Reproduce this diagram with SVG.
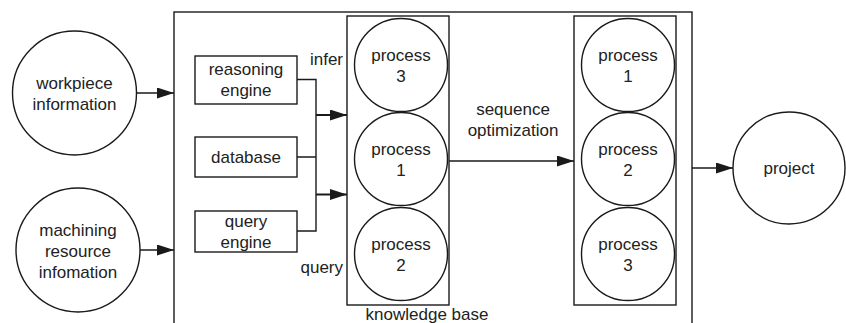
<svg xmlns="http://www.w3.org/2000/svg" width="846" height="323" viewBox="0 0 846 323">
  <style>
    .shape { fill: #fff; stroke: #1a1a1a; stroke-width: 1.4; }
    .frame { fill: none; stroke: #1a1a1a; stroke-width: 1.4; }
    .wire { fill: none; stroke: #1a1a1a; stroke-width: 1.4; }
    .wire-bold { fill: none; stroke: #1a1a1a; stroke-width: 2; }
    text { font-family: "Liberation Sans", Arial, sans-serif; font-size: 17px; fill: #222; text-anchor: middle; }
    .end { text-anchor: end; }
  </style>
  <defs>
    <marker id="arrow" markerUnits="userSpaceOnUse" markerWidth="18" markerHeight="12" refX="17" refY="5.5" orient="auto">
      <path d="M0,0 L17,5.5 L0,11 Z" fill="#1a1a1a"/>
    </marker>
  </defs>

  <rect fill="#fff" width="846" height="323"/>

  <!-- outer system frame, open at the bottom -->
  <rect id="system-frame" class="frame" x="174" y="12" width="518" height="340"/>

  <!-- inputs -->
  <g id="workpiece">
    <circle class="shape" cx="74.5" cy="93" r="62"/>
    <text x="74.5" y="88.5">workpiece</text>
    <text x="74.5" y="110">information</text>
  </g>
  <g id="machining">
    <circle class="shape" cx="78" cy="250" r="62"/>
    <text x="78" y="235.5">machining</text>
    <text x="78" y="256.5">resource</text>
    <text x="78" y="277.5">infomation</text>
  </g>

  <!-- engines -->
  <g id="reasoning-engine">
    <rect class="shape" x="195" y="56" width="102" height="48"/>
    <text x="246" y="74.5">reasoning</text>
    <text x="246" y="95.5">engine</text>
  </g>
  <g id="database">
    <rect class="shape" x="195" y="137" width="102" height="40"/>
    <text x="246" y="163">database</text>
  </g>
  <g id="query-engine">
    <rect class="shape" x="195" y="211" width="102" height="41"/>
    <text x="246" y="226.5">query</text>
    <text x="246" y="247.5">engine</text>
  </g>

  <!-- knowledge base -->
  <g id="knowledge-base">
    <rect class="shape" x="347" y="16" width="102" height="289"/>
    <circle class="shape" cx="401" cy="65" r="46.5"/>
    <text x="401" y="61">process</text>
    <text x="401" y="82">3</text>
    <circle class="shape" cx="401" cy="159" r="46.5"/>
    <text x="401" y="155">process</text>
    <text x="401" y="176">1</text>
    <circle class="shape" cx="401" cy="254" r="46.5"/>
    <text x="401" y="250">process</text>
    <text x="401" y="271">2</text>
    <text x="427" y="320">knowledge base</text>
  </g>

  <!-- optimized sequence -->
  <g id="optimized-sequence">
    <rect class="shape" x="574" y="16" width="102" height="289"/>
    <circle class="shape" cx="628" cy="65" r="46.5"/>
    <text x="628" y="61">process</text>
    <text x="628" y="82">1</text>
    <circle class="shape" cx="628" cy="159" r="46.5"/>
    <text x="628" y="155">process</text>
    <text x="628" y="176">2</text>
    <circle class="shape" cx="628" cy="254" r="46.5"/>
    <text x="628" y="250">process</text>
    <text x="628" y="271">3</text>
  </g>

  <!-- output -->
  <g id="project">
    <circle class="shape" cx="789" cy="168" r="56"/>
    <text x="789" y="174">project</text>
  </g>

  <!-- connectors -->
  <g id="connectors">
    <line class="wire" x1="136.5" y1="93" x2="174" y2="93" marker-end="url(#arrow)"/>
    <line class="wire" x1="140" y1="250" x2="174" y2="250" marker-end="url(#arrow)"/>
    <path class="wire" d="M297,79.5 H316 V231 H297 M297,157 H316"/>
    <line class="wire-bold" x1="316" y1="115" x2="347" y2="115" marker-end="url(#arrow)"/>
    <line class="wire-bold" x1="316" y1="194.5" x2="347" y2="194.5" marker-end="url(#arrow)"/>
    <line class="wire" x1="449" y1="161" x2="574" y2="161" marker-end="url(#arrow)"/>
    <line class="wire" x1="692" y1="168" x2="733" y2="168" marker-end="url(#arrow)"/>
  </g>

  <!-- connector labels -->
  <g id="labels">
    <text class="end" x="343" y="64.5">infer</text>
    <text class="end" x="343" y="272.5">query</text>
    <text x="513" y="114.5">sequence</text>
    <text x="513" y="136">optimization</text>
  </g>
</svg>
